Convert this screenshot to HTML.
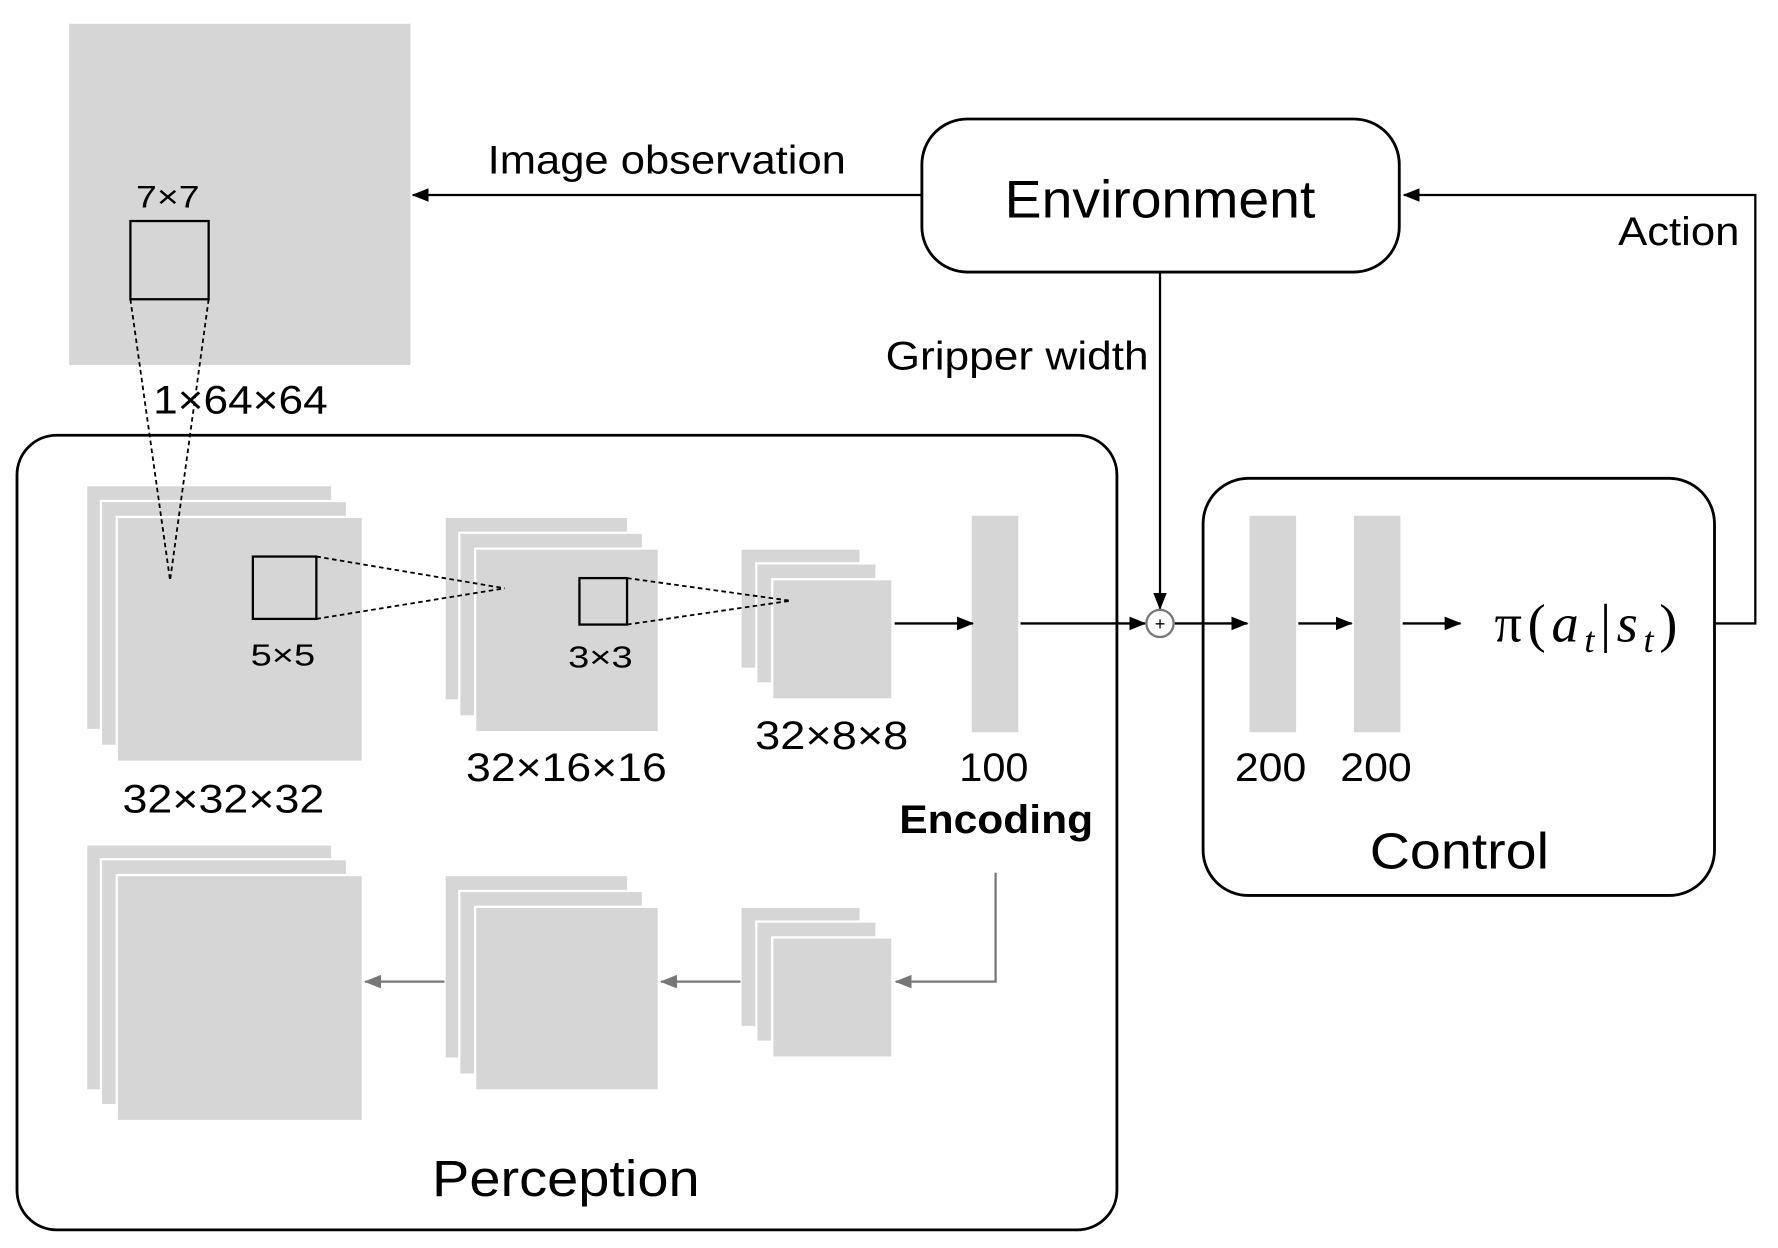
<!DOCTYPE html>
<html><head><meta charset="utf-8"><style>
html,body{margin:0;padding:0;background:#fff;}
svg{display:block;}
text{font-family:"Liberation Sans",sans-serif;fill:#000;}
</style></head><body>
<svg width="1778" height="1248" viewBox="0 0 1568 1101" preserveAspectRatio="none" xmlns="http://www.w3.org/2000/svg">
<defs>
<marker id="g" markerWidth="16" markerHeight="14" refX="14" refY="7" orient="auto" markerUnits="userSpaceOnUse"><path d="M0,1 L15,7 L0,13 z" fill="#777"/></marker>
<marker id="b" markerWidth="16" markerHeight="14" refX="14" refY="7" orient="auto" markerUnits="userSpaceOnUse"><path d="M0,1 L15,7 L0,13 z" fill="#000"/></marker>
</defs>
<rect x="61" y="21" width="301" height="301" fill="#d6d6d6"/>
<text x="120" y="183" font-size="28" textLength="56" lengthAdjust="spacingAndGlyphs">7×7</text>
<rect x="115" y="195" width="69" height="69" fill="none" stroke="#000" stroke-width="2"/>
<text x="135" y="365" font-size="35" textLength="154" lengthAdjust="spacingAndGlyphs">1×64×64</text>

<rect x="15" y="384" width="970" height="701" rx="35" fill="none" stroke="#000" stroke-width="2.5"/>
<g fill="#d6d6d6" stroke="#fff" stroke-width="2">
<rect x="76" y="428" width="217" height="216"/><rect x="89" y="442" width="217" height="216"/><rect x="103" y="456" width="217" height="216"/>
<rect x="392" y="456" width="162" height="162"/><rect x="405" y="470" width="162" height="162"/><rect x="419" y="484" width="162" height="162"/>
<rect x="653" y="484" width="106" height="106"/><rect x="667" y="497" width="106" height="106"/><rect x="681" y="511" width="106" height="106"/>
<rect x="76" y="745" width="217" height="217"/><rect x="89" y="758" width="217" height="217"/><rect x="103" y="772" width="217" height="217"/>
<rect x="392" y="772" width="162" height="162"/><rect x="405" y="786" width="162" height="162"/><rect x="419" y="800" width="162" height="162"/>
<rect x="653" y="800" width="106" height="106"/><rect x="667" y="813" width="106" height="106"/><rect x="681" y="827" width="106" height="106"/>
</g>
<g stroke="#000" stroke-width="1.6" stroke-dasharray="4,3" fill="none">
<line x1="115" y1="264" x2="150" y2="512"/><line x1="184" y1="264" x2="150" y2="512"/>
<line x1="279" y1="491" x2="445" y2="519"/><line x1="279" y1="546" x2="445" y2="519"/>
<line x1="553" y1="510" x2="697" y2="530"/><line x1="553" y1="551" x2="697" y2="530"/>
</g>
<rect x="223" y="491" width="56" height="55" fill="none" stroke="#000" stroke-width="2"/>
<text x="221" y="587" font-size="27" textLength="57" lengthAdjust="spacingAndGlyphs">5×5</text>
<rect x="511" y="510" width="42" height="41" fill="none" stroke="#000" stroke-width="2"/>
<text x="501" y="589" font-size="27" textLength="57" lengthAdjust="spacingAndGlyphs">3×3</text>
<text x="108" y="717" font-size="35" textLength="178" lengthAdjust="spacingAndGlyphs">32×32×32</text>
<text x="411" y="689" font-size="35" textLength="177" lengthAdjust="spacingAndGlyphs">32×16×16</text>
<text x="666" y="661" font-size="35" textLength="135" lengthAdjust="spacingAndGlyphs">32×8×8</text>
<rect x="857" y="455" width="41" height="191" fill="#d6d6d6"/>
<text x="846" y="689" font-size="35" textLength="61" lengthAdjust="spacingAndGlyphs">100</text>
<text x="793" y="735" font-size="35" font-weight="bold" textLength="171" lengthAdjust="spacingAndGlyphs">Encoding</text>
<g stroke="#000" stroke-width="2" fill="none">
<line x1="789" y1="550" x2="858" y2="550" marker-end="url(#b)"/>
<line x1="900" y1="550" x2="1010" y2="550" marker-end="url(#b)"/>
<line x1="1036" y1="550" x2="1100" y2="550" marker-end="url(#b)"/>
<line x1="1145" y1="550" x2="1192" y2="550" marker-end="url(#b)"/>
<line x1="1237" y1="550" x2="1288" y2="550" marker-end="url(#b)"/>
<line x1="1023" y1="240" x2="1023" y2="537" marker-end="url(#b)"/>
<line x1="813" y1="172" x2="364" y2="172" marker-end="url(#b)"/>
<polyline points="1513,550 1548,550 1548,172 1238,172" marker-end="url(#b)"/>
</g>
<circle cx="1023" cy="550" r="12" fill="#fff" stroke="#777" stroke-width="2"/>
<text x="1023" y="556" font-size="16" text-anchor="middle">+</text>
<g stroke="#777" stroke-width="2" fill="none">
<polyline points="878,770 878,866 790,866" marker-end="url(#g)"/>
<line x1="653" y1="866" x2="583" y2="866" marker-end="url(#g)"/>
<line x1="392" y1="866" x2="322" y2="866" marker-end="url(#g)"/>
</g>
<text x="381" y="1055" font-size="45" textLength="236" lengthAdjust="spacingAndGlyphs">Perception</text>

<rect x="813" y="105" width="421" height="135" rx="40" fill="#fff" stroke="#000" stroke-width="2.5"/>
<text x="886" y="192" font-size="47" textLength="274" lengthAdjust="spacingAndGlyphs">Environment</text>
<text x="430" y="153" font-size="35" textLength="316" lengthAdjust="spacingAndGlyphs">Image observation</text>
<text x="781" y="326" font-size="35" textLength="232" lengthAdjust="spacingAndGlyphs">Gripper width</text>
<text x="1427" y="216" font-size="35" textLength="107" lengthAdjust="spacingAndGlyphs">Action</text>

<rect x="1061" y="422" width="451" height="368" rx="40" fill="none" stroke="#000" stroke-width="2.5"/>
<rect x="1102" y="455" width="41" height="191" fill="#d6d6d6"/>
<rect x="1194" y="455" width="41" height="191" fill="#d6d6d6"/>
<text x="1089" y="689" font-size="35" textLength="63" lengthAdjust="spacingAndGlyphs">200</text>
<text x="1182" y="689" font-size="35" textLength="63" lengthAdjust="spacingAndGlyphs">200</text>
<text x="1208" y="766" font-size="45" textLength="158" lengthAdjust="spacingAndGlyphs">Control</text>
<text x="1318" y="566" font-size="48" letter-spacing="5" style="font-family:'Liberation Serif',serif">π(<tspan font-style="italic">a</tspan><tspan font-style="italic" font-size="32" dy="9">t</tspan><tspan dy="-9">|</tspan><tspan font-style="italic">s</tspan><tspan font-style="italic" font-size="32" dy="9">t</tspan><tspan dy="-9">)</tspan></text>
</svg>
</body></html>
